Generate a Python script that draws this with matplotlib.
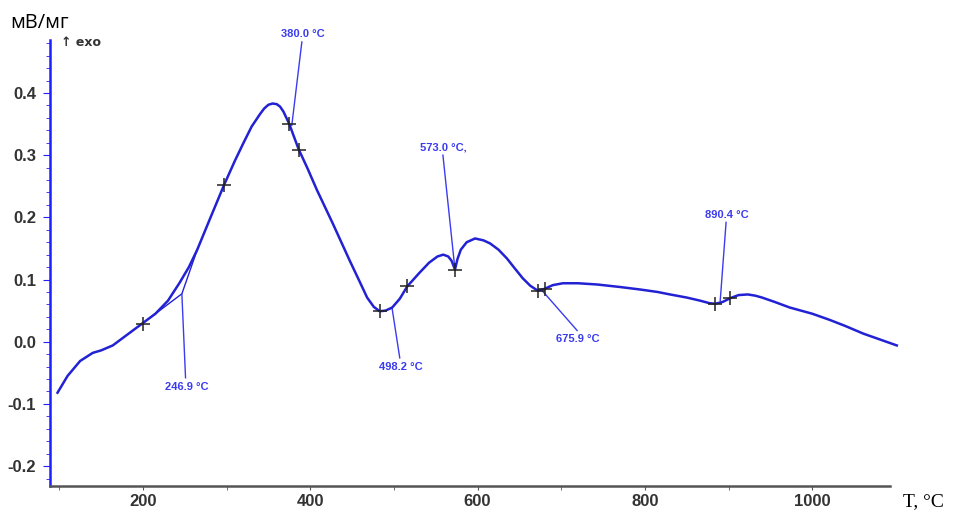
import matplotlib.pyplot as plt
from matplotlib.ticker import MultipleLocator

# DTA curve
temp = [98, 110, 125, 140, 150, 164, 180, 199, 215, 230, 244, 255, 265, 280, 297,
        310, 320, 330, 340, 345, 350, 355, 360, 364, 368, 375, 386, 397, 408, 427,
        447, 460, 468, 476, 483, 490, 498, 507, 516, 530, 542, 552, 559, 565, 569,
        573, 576, 580, 587, 597, 607, 615, 625, 635, 645, 654, 663, 672, 680, 690,
        702, 720, 743, 770, 794, 815, 830, 850, 866, 877, 884, 893, 902, 912, 923,
        932, 940, 955, 973, 1000, 1021, 1040, 1061, 1080, 1101]
signal = [-0.082, -0.055, -0.031, -0.018, -0.014, -0.006, 0.010, 0.029, 0.045, 0.066,
          0.095, 0.120, 0.148, 0.197, 0.252, 0.291, 0.319, 0.346, 0.366, 0.375,
          0.381, 0.383, 0.382, 0.378, 0.370, 0.350, 0.310, 0.278, 0.244, 0.190,
          0.131, 0.094, 0.071, 0.056, 0.049, 0.050, 0.055, 0.069, 0.089, 0.110,
          0.127, 0.137, 0.140, 0.137, 0.130, 0.116, 0.133, 0.148, 0.160, 0.166,
          0.163, 0.158, 0.148, 0.134, 0.117, 0.102, 0.090, 0.082, 0.085, 0.091,
          0.094, 0.094, 0.092, 0.088, 0.084, 0.080, 0.076, 0.071, 0.066, 0.062,
          0.061, 0.064, 0.070, 0.075, 0.076, 0.074, 0.071, 0.064, 0.055, 0.045,
          0.035, 0.025, 0.013, 0.004, -0.006]

# marked points (+)
mark_t = [200, 297, 375, 386, 483, 516, 573, 672, 680, 884, 902]
mark_y = [0.029, 0.252, 0.350, 0.308, 0.049, 0.089, 0.116, 0.082, 0.085, 0.061, 0.070]

# onset tangents at 246.9
tan_t = [215, 246.6, 265]
tan_y = [0.045, 0.077, 0.148]

# annotations: label, curve point, label point
labels = ["246.9 °C", "380.0 °C", "498.2 °C", "573.0 °C,", "675.9 °C", "890.4 °C"]
pt_t = [246.6, 378, 497.7, 573, 676, 890]
pt_y = [0.077, 0.348, 0.055, 0.116, 0.084, 0.066]
lab_t = [251, 390, 507, 558.6, 719, 897]
lab_y = [-0.058, 0.482, -0.026, 0.300, 0.018, 0.192]

blue = '#2222d4'
lblue = '#3b3bf0'

fig = plt.figure(figsize=(9.54, 5.14), dpi=100)
ax = fig.add_axes([0.0524, 0.0545, 0.8806, 0.8675])

ax.plot(temp, signal, color=blue, lw=1.8, zorder=3, clip_on=False)
ax.plot(tan_t, tan_y, color=blue, lw=1.0, zorder=2)
ax.plot(mark_t, mark_y, '+', color='#222222', ms=10, mew=1.1, zorder=4)

for lab, x0, y0, x1, y1 in zip(labels, pt_t, pt_y, lab_t, lab_y):
    ax.plot([x0, x1], [y0, y1], color=lblue, lw=1.0, clip_on=False, zorder=2)
    va = 'bottom' if y1 > y0 else 'top'
    ax.text(x1 + 1, y1 + (0.004 if va == 'bottom' else -0.006), lab, color=lblue,
            fontsize=8, fontweight='bold', ha='center', va=va,
            family='Liberation Sans', clip_on=False)

ax.set_xlim(89, 1093)
ax.set_ylim(-0.232, 0.485)
ax.xaxis.set_major_locator(MultipleLocator(200))
ax.xaxis.set_minor_locator(MultipleLocator(100))
ax.yaxis.set_major_locator(MultipleLocator(0.1))
ax.yaxis.set_minor_locator(MultipleLocator(0.02))

ax.spines['top'].set_visible(False)
ax.spines['right'].set_visible(False)
ax.spines['left'].set_color('#1f1fff')
ax.spines['left'].set_linewidth(1.8)
ax.spines['bottom'].set_color('#555555')
ax.spines['bottom'].set_linewidth(1.8)

ax.tick_params(axis='y', which='both', colors='#1f1fff', labelcolor='#333333')
ax.tick_params(axis='y', which='major', length=5, pad=5)
ax.tick_params(axis='y', which='minor', length=3)
ax.tick_params(axis='x', which='both', colors='#555555', labelcolor='#333333', length=3, pad=3)
for t in ax.get_xticklabels() + ax.get_yticklabels():
    t.set_fontweight('bold')
    t.set_fontsize(12)
    t.set_family('Liberation Sans')
ax.yaxis.set_major_formatter(plt.FuncFormatter(lambda v, p: '%.1f' % v))
ax.xaxis.set_major_formatter(plt.FuncFormatter(lambda v, p: '%d' % v))

fig.text(0.011, 0.955, 'мВ/мг', fontsize=14.5, family='Open Sans', va='center')
fig.text(0.064, 0.917, '↑ exo', fontsize=9, fontweight='bold', color='#333333',
         family='DejaVu Sans', va='center')
fig.text(0.947, 0.008, 'T, °C', fontsize=14, family='Liberation Serif', va='bottom')

fig.savefig('out.png', dpi=100)
